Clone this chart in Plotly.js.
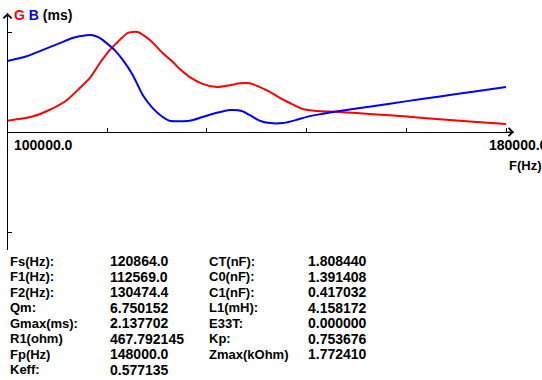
<!DOCTYPE html>
<html>
<head>
<meta charset="utf-8">
<script src="https://cdn.plot.ly/plotly-3.0.1.min.js"></script>
<style>html,body{margin:0;padding:0;background:#fff;overflow:hidden}#chart{width:542px;height:380px}</style>
</head>
<body>
<div id="chart"></div>
<script>
// ---- data ----
const freqG = [100000,104000,106700,109500,111600,113200,114800,116400,117500,119300,120860,122800,124900,126500,127600,129200,131300,133600,135700,137300,138900,140500,142100,143700,145300,147400,149600,153300,158600,164100,169400,174700,180000];
const valG  = [0.24,0.33,0.47,0.68,0.94,1.15,1.47,1.75,1.90,2.12,2.138,1.97,1.69,1.50,1.35,1.18,1.03,0.96,1.00,1.04,1.04,0.96,0.86,0.73,0.62,0.49,0.45,0.43,0.38,0.33,0.27,0.22,0.17];
const freqB = [100000,103100,105600,108400,110400,112700,113700,114800,115900,117200,118500,120100,121700,123300,124900,126000,129200,131300,133600,135700,137600,138900,140500,142100,144200,146400,148500,150600,153300,158600,164100,169400,174700,180000];
const valB  = [1.52,1.62,1.75,1.90,2.01,2.07,2.07,2.01,1.90,1.75,1.54,1.22,0.79,0.51,0.32,0.24,0.24,0.32,0.41,0.47,0.45,0.36,0.24,0.19,0.19,0.26,0.34,0.39,0.45,0.55,0.66,0.76,0.86,0.96];
const xTickVals = [100000,116000,132000,148000,164000,180000];
const xTickLabels = ['100000.0','180000.0'];
const gMax = 2.137702;
const tableLabels1 = ['Fs(Hz):','F1(Hz):','F2(Hz):','Qm:','Gmax(ms):','R1(ohm)','Fp(Hz)','Keff:'];
const tableValues1 = ['120864.0','112569.0','130474.4','6.750152','2.137702','467.792145','148000.0','0.577135'];
const tableLabels2 = ['CT(nF):','C0(nF):','C1(nF):','L1(mH):','E33T:','Kp:','Zmax(kOhm)'];
const tableValues2 = ['1.808440','1.391408','0.417032','4.158172','0.000000','0.753676','1.772410'];

(function () {
const W = 542, H = 380;
const FONT = 'Liberation Sans, Arial, sans-serif';
const px = v => v / W;
const py = v => 1 - v / H;
const pLeft = 7.5, pRight = 514, pTop = 13, pBottom = 250;
const x0px = 7.5, x1px = 506;
const zeroPx = 132, gMaxPx = 32;
const xMin = 100000, xMaxTick = 180000;
const xPerPx = (xMaxTick - xMin) / (x1px - x0px);
const xRange = [xMin - (x0px - pLeft) * xPerPx, xMin + (pRight - x0px) * xPerPx];
const yPerPx = gMax / (zeroPx - gMaxPx);
const yRange = [-(pBottom - zeroPx) * yPerPx, (zeroPx - pTop) * yPerPx];

const traces = [
  {x: freqG, y: valG, type: 'scatter', mode: 'lines', line: {color: '#ff0000', width: 2, shape: 'spline', smoothing: 0.6}, cliponaxis: false},
  {x: freqB, y: valB, type: 'scatter', mode: 'lines', line: {color: '#0000ff', width: 2, shape: 'spline', smoothing: 0.6}, cliponaxis: false}
];

const ann = [];
const bold = s => '<b>' + s + '</b>';
ann.push({xref: 'paper', yref: 'paper', x: px(12), y: py(15), xanchor: 'left', yanchor: 'middle', showarrow: false,
  text: bold('<span style="color:#ff0000">G</span> <span style="color:#0000ff">B</span> (ms)'),
  font: {family: FONT, size: 14, color: '#000'}});
const xLabPx = [12, 487];
xTickLabels.forEach((t, i) => ann.push({xref: 'paper', yref: 'paper', x: px(xLabPx[i]), y: py(145), xanchor: 'left', yanchor: 'middle',
  showarrow: false, text: bold(t), font: {family: FONT, size: 14, color: '#000'}}));
ann.push({xref: 'paper', yref: 'paper', x: px(507), y: py(165), xanchor: 'left', yanchor: 'middle', showarrow: false,
  text: bold('F(Hz)'), font: {family: FONT, size: 13, color: '#000'}});
ann.push({xref: 'x', yref: 'y', x: xRange[0], y: yRange[1], ax: 0, ay: 8, showarrow: true, arrowhead: 4, arrowsize: 1.6, arrowwidth: 1, arrowcolor: '#000', text: ''});
ann.push({xref: 'x', yref: 'y', x: xRange[1], y: 0, ax: -8, ay: 0, showarrow: true, arrowhead: 4, arrowsize: 1.6, arrowwidth: 1, arrowcolor: '#000', text: ''});
const rowY = i => 261 + i * 15.5;
const cols = [[8, tableLabels1, 13], [108, tableValues1, 14], [207, tableLabels2, 13], [306, tableValues2, 14]];
cols.forEach(([cx, arr, fs]) => arr.forEach((t, i) => ann.push({xref: 'paper', yref: 'paper', x: px(cx), y: py(rowY(i)),
  xanchor: 'left', yanchor: 'middle', showarrow: false, text: bold(t), font: {family: FONT, size: fs, color: '#000'}})));

const layout = {
  width: W, height: H,
  margin: {l: 0, r: 0, t: 0, b: 0, pad: 0},
  paper_bgcolor: '#fff', plot_bgcolor: '#fff',
  showlegend: false,
  xaxis: {range: xRange, domain: [px(pLeft), px(pRight)], anchor: 'free', position: py(zeroPx),
    showgrid: false, zeroline: false, showline: false, ticks: 'inside', ticklen: 4, tickwidth: 1, tickcolor: '#000',
    tickmode: 'array', tickvals: xTickVals, showticklabels: false},
  yaxis: {range: yRange, domain: [py(pBottom), py(pTop)], showgrid: false,
    zeroline: true, zerolinecolor: '#000', zerolinewidth: 1,
    showline: true, linecolor: '#000', linewidth: 1,
    ticks: 'inside', ticklen: 4, tickwidth: 1, tickcolor: '#000',
    tickmode: 'array', tickvals: [-gMax, gMax], showticklabels: false},
  annotations: ann
};
Plotly.newPlot('chart', traces, layout, {staticPlot: true, displayModeBar: false});
})();
</script>
</body>
</html>
